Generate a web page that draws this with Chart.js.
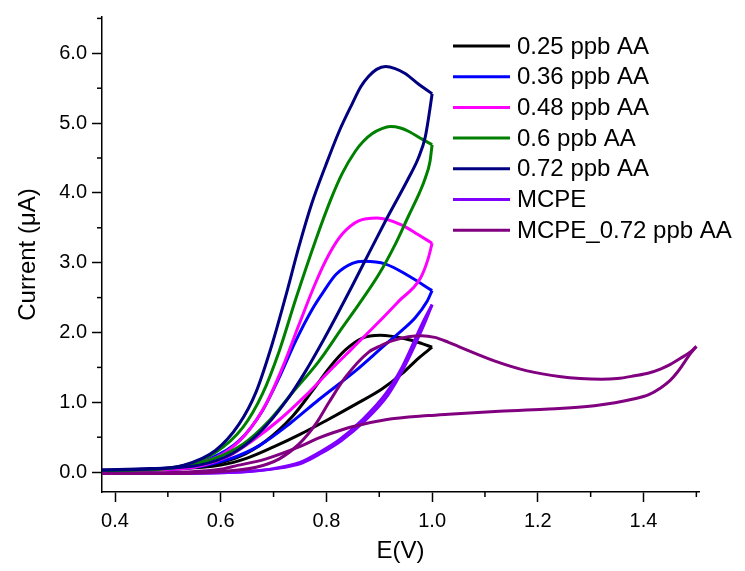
<!DOCTYPE html>
<html>
<head>
<meta charset="utf-8">
<script src="https://cdn.jsdelivr.net/npm/chart.js@4.4.1/dist/chart.umd.min.js"></script>
<style>
  body { margin: 0; background: #fff; }
  canvas { display: block; }
</style>
</head>
<body>
<canvas id="cvChart" width="745" height="571"></canvas>
<script>
// series names and colours
var seriesNames = ['0.25 ppb AA', '0.36 ppb AA', '0.48 ppb AA', '0.6 ppb AA', '0.72 ppb AA', 'MCPE', 'MCPE_0.72 ppb AA'];
var seriesColors = ['#000000', '#0000ff', '#ff00ff', '#008000', '#000080', '#8000ff', '#800080'];

// potential (V) and current (uA), read along each loop: forward scan up to the vertex, then return
var aa025E = [0.375, 0.498, 0.579, 0.635, 0.686, 0.736, 0.773, 0.805, 0.836, 0.868, 0.902, 0.949, 0.981, 1.0,
  0.974, 0.943, 0.905, 0.855, 0.80, 0.75, 0.70, 0.65, 0.60, 0.50, 0.375];
var aa025I = [0.02, 0.04, 0.10, 0.22, 0.45, 0.80, 1.16, 1.49, 1.75, 1.92, 1.96, 1.91, 1.84, 1.79,
  1.63, 1.41, 1.19, 0.97, 0.74, 0.54, 0.36, 0.20, 0.10, 0.04, 0.02];

var aa036E = [0.375, 0.45, 0.498, 0.579, 0.635, 0.679, 0.711, 0.742, 0.773, 0.795, 0.818, 0.849, 0.871, 0.912, 0.956, 1.0,
  0.99, 0.968, 0.943, 0.912, 0.855, 0.786, 0.73, 0.673, 0.617, 0.54, 0.375];
var aa036I = [0.02, 0.03, 0.05, 0.19, 0.45, 0.88, 1.36, 1.88, 2.33, 2.59, 2.83, 2.99, 3.02, 2.98, 2.81, 2.60,
  2.44, 2.21, 2.03, 1.83, 1.45, 1.04, 0.69, 0.38, 0.19, 0.06, 0.02];

var aa048E = [0.375, 0.45, 0.54, 0.604, 0.648, 0.686, 0.717, 0.748, 0.78, 0.805, 0.83, 0.861, 0.896, 0.943, 0.974, 1.0,
  0.993, 0.978, 0.937, 0.899, 0.85, 0.81, 0.761, 0.711, 0.66, 0.61, 0.53, 0.375];
var aa048I = [0.02, 0.03, 0.10, 0.26, 0.55, 0.98, 1.50, 2.11, 2.72, 3.12, 3.41, 3.60, 3.64, 3.54, 3.40, 3.28,
  3.07, 2.78, 2.45, 2.15, 1.78, 1.48, 1.10, 0.75, 0.45, 0.21, 0.05, 0.02];

var aa060E = [0.375, 0.45, 0.529, 0.59, 0.642, 0.679, 0.711, 0.742, 0.78, 0.808, 0.83, 0.855, 0.87, 0.887, 0.905, 0.921, 0.94, 0.956, 0.981, 1.0,
  0.996, 0.987, 0.976, 0.956, 0.93, 0.899, 0.861, 0.83, 0.786, 0.736, 0.692, 0.642, 0.579, 0.498, 0.375];
var aa060I = [0.02, 0.03, 0.09, 0.28, 0.64, 1.12, 1.74, 2.48, 3.33, 3.90, 4.28, 4.60, 4.74, 4.85, 4.92, 4.95, 4.93, 4.88, 4.77, 4.69,
  4.45, 4.21, 4.00, 3.68, 3.26, 2.83, 2.40, 2.07, 1.59, 1.14, 0.74, 0.40, 0.17, 0.05, 0.02];

var aa072E = [0.375, 0.45, 0.53, 0.59, 0.635, 0.667, 0.698, 0.723, 0.748, 0.772, 0.799, 0.824, 0.849, 0.865, 0.88, 0.895, 0.912, 0.93, 0.949, 0.974, 1.0,
  0.996, 0.987, 0.974, 0.956, 0.912, 0.88, 0.849, 0.82, 0.795, 0.761, 0.725, 0.673, 0.623, 0.56, 0.466, 0.375];
var aa072I = [0.03, 0.04, 0.10, 0.31, 0.69, 1.15, 1.85, 2.52, 3.23, 3.84, 4.40, 4.88, 5.28, 5.52, 5.67, 5.77, 5.81, 5.78, 5.71, 5.56, 5.42,
  5.21, 4.80, 4.50, 4.22, 3.60, 3.13, 2.67, 2.25, 1.90, 1.45, 1.03, 0.56, 0.27, 0.10, 0.05, 0.03];

var mcpeE = [0.375, 0.50, 0.60, 0.65, 0.70, 0.75, 0.786, 0.824, 0.868, 0.912, 0.943, 0.981, 1.0,
  0.985, 0.947, 0.916, 0.872, 0.828, 0.79, 0.754, 0.704, 0.60, 0.375];
var mcpeI = [-0.02, -0.02, -0.01, 0.01, 0.05, 0.14, 0.28, 0.46, 0.75, 1.12, 1.50, 2.12, 2.40,
  2.12, 1.50, 1.10, 0.73, 0.45, 0.27, 0.13, 0.05, -0.01, -0.02];

var mcpeAaE = [0.375, 0.529, 0.60, 0.623, 0.686, 0.748, 0.786, 0.811, 0.849, 0.912, 0.993, 1.031, 1.119, 1.213, 1.307, 1.383, 1.41, 1.433, 1.45, 1.464, 1.478, 1.489, 1.50,
  1.49, 1.47, 1.45, 1.433, 1.41, 1.383, 1.35, 1.32, 1.28, 1.244, 1.18, 1.119, 1.056, 1.031, 1.005, 0.98, 0.955, 0.924, 0.90, 0.88, 0.836, 0.805, 0.78, 0.748, 0.711, 0.667, 0.604, 0.50, 0.375];
var mcpeAaI = [-0.02, 0.0, 0.04, 0.08, 0.19, 0.36, 0.49, 0.56, 0.65, 0.75, 0.81, 0.83, 0.87, 0.90, 0.95, 1.05, 1.11, 1.21, 1.31, 1.43, 1.58, 1.70, 1.80,
  1.73, 1.63, 1.54, 1.48, 1.42, 1.38, 1.34, 1.33, 1.34, 1.365, 1.45, 1.59, 1.78, 1.86, 1.93, 1.955, 1.94, 1.88, 1.80, 1.72, 1.36, 1.00, 0.69, 0.40, 0.19, 0.07, 0.01, -0.02, -0.02];

var seriesE = [aa025E, aa036E, aa048E, aa060E, aa072E, mcpeE, mcpeAaE];
var seriesI = [aa025I, aa036I, aa048I, aa060I, aa072I, mcpeI, mcpeAaI];

// axis ticks
var xMajor = [0.4, 0.6, 0.8, 1.0, 1.2, 1.4];
var xMinor = [0.5, 0.7, 0.9, 1.1, 1.3, 1.5];
var yMajor = [0, 1, 2, 3, 4, 5, 6];
var yMinor = [0.5, 1.5, 2.5, 3.5, 4.5, 5.5, 6.5];

var FONT = "'Liberation Sans', Arial, sans-serif";

function makePoints(xs, ys, from, to) {
  var pts = [];
  for (var i = from; i <= to; i++) pts.push({ x: xs[i], y: ys[i] });
  return pts;
}

// each loop is split at its vertex (largest E) so the turn stays sharp
var datasets = [];
seriesNames.forEach(function(name, i) {
  var xs = seriesE[i], ys = seriesI[i];
  var turn = xs.indexOf(Math.max.apply(null, xs));
  [[0, turn], [turn, xs.length - 1]].forEach(function(part) {
    datasets.push({
      label: name,
      data: makePoints(xs, ys, part[0], part[1]),
      borderColor: seriesColors[i],
      borderWidth: 3,
      showLine: true,
      pointRadius: 0,
      cubicInterpolationMode: 'monotone',
      borderJoinStyle: 'miter',
      fill: false,
      order: seriesNames.length - i
    });
  });
});

// short minor ticks on both axes
var minorTicks = {
  id: 'minorTicks',
  afterDraw: function(chart) {
    var ctx = chart.ctx;
    var xs = chart.scales.x, ys = chart.scales.y;
    ctx.save();
    ctx.strokeStyle = '#000';
    ctx.lineWidth = 1.5;
    xMinor.forEach(function(v) {
      var px = xs.getPixelForValue(v);
      ctx.beginPath();
      ctx.moveTo(px, xs.top);
      ctx.lineTo(px, xs.top + 5);
      ctx.stroke();
    });
    yMinor.forEach(function(v) {
      var py = ys.getPixelForValue(v);
      ctx.beginPath();
      ctx.moveTo(ys.right, py);
      ctx.lineTo(ys.right - 5, py);
      ctx.stroke();
    });
    ctx.restore();
  }
};

// legend drawn inside the plot, top right
var insideLegend = {
  id: 'insideLegend',
  afterDraw: function(chart) {
    var ctx = chart.ctx;
    ctx.save();
    ctx.font = '24px ' + FONT;
    ctx.textBaseline = 'middle';
    ctx.textAlign = 'left';
    seriesNames.forEach(function(name, i) {
      var y = 46 + i * 30.7;
      ctx.strokeStyle = seriesColors[i];
      ctx.lineWidth = 3;
      ctx.beginPath();
      ctx.moveTo(453, y);
      ctx.lineTo(510, y);
      ctx.stroke();
      ctx.fillStyle = '#000';
      ctx.fillText(name, 517, y + 1);
    });
    ctx.restore();
  }
};

var ctx = document.getElementById('cvChart').getContext('2d');
var cvChart = new Chart(ctx, {
  type: 'scatter',
  data: { datasets: datasets },
  plugins: [minorTicks, insideLegend],
  options: {
    responsive: false,
    animation: false,
    layout: { padding: { top: 15, right: 46, left: 0, bottom: 0 } },
    plugins: { legend: { display: false }, tooltip: { enabled: false } },
    scales: {
      x: {
        type: 'linear',
        min: 0.3754,
        max: 1.505,
        afterFit: function(s) { s.height = 79; },
        afterBuildTicks: function(s) { s.ticks = xMajor.map(function(v) { return { value: v }; }); },
        border: { display: true, color: '#000', width: 1.5 },
        grid: { drawOnChartArea: false, drawTicks: true, tickLength: 10, tickColor: '#000', tickWidth: 1.5 },
        ticks: {
          color: '#000', padding: 7,
          font: { family: FONT, size: 20 },
          callback: function(v) { return v.toFixed(1); }
        },
        title: { display: true, text: 'E(V)', color: '#000', font: { family: FONT, size: 24 }, padding: { top: 4, bottom: 5 } }
      },
      y: {
        type: 'linear',
        min: -0.285,
        max: 6.52,
        afterFit: function(s) { s.width = 102; },
        afterBuildTicks: function(s) { s.ticks = yMajor.map(function(v) { return { value: v }; }); },
        border: { display: true, color: '#000', width: 1.5 },
        grid: { drawOnChartArea: false, drawTicks: true, tickLength: 10, tickColor: '#000', tickWidth: 1.5 },
        ticks: {
          color: '#000', padding: 5,
          font: { family: FONT, size: 20 },
          callback: function(v) { return v.toFixed(1); }
        },
        title: { display: true, text: 'Current (\u03bcA)', color: '#000', font: { family: FONT, size: 24 }, padding: { top: 14, bottom: 4 } }
      }
    }
  }
});
</script>
</body>
</html>
